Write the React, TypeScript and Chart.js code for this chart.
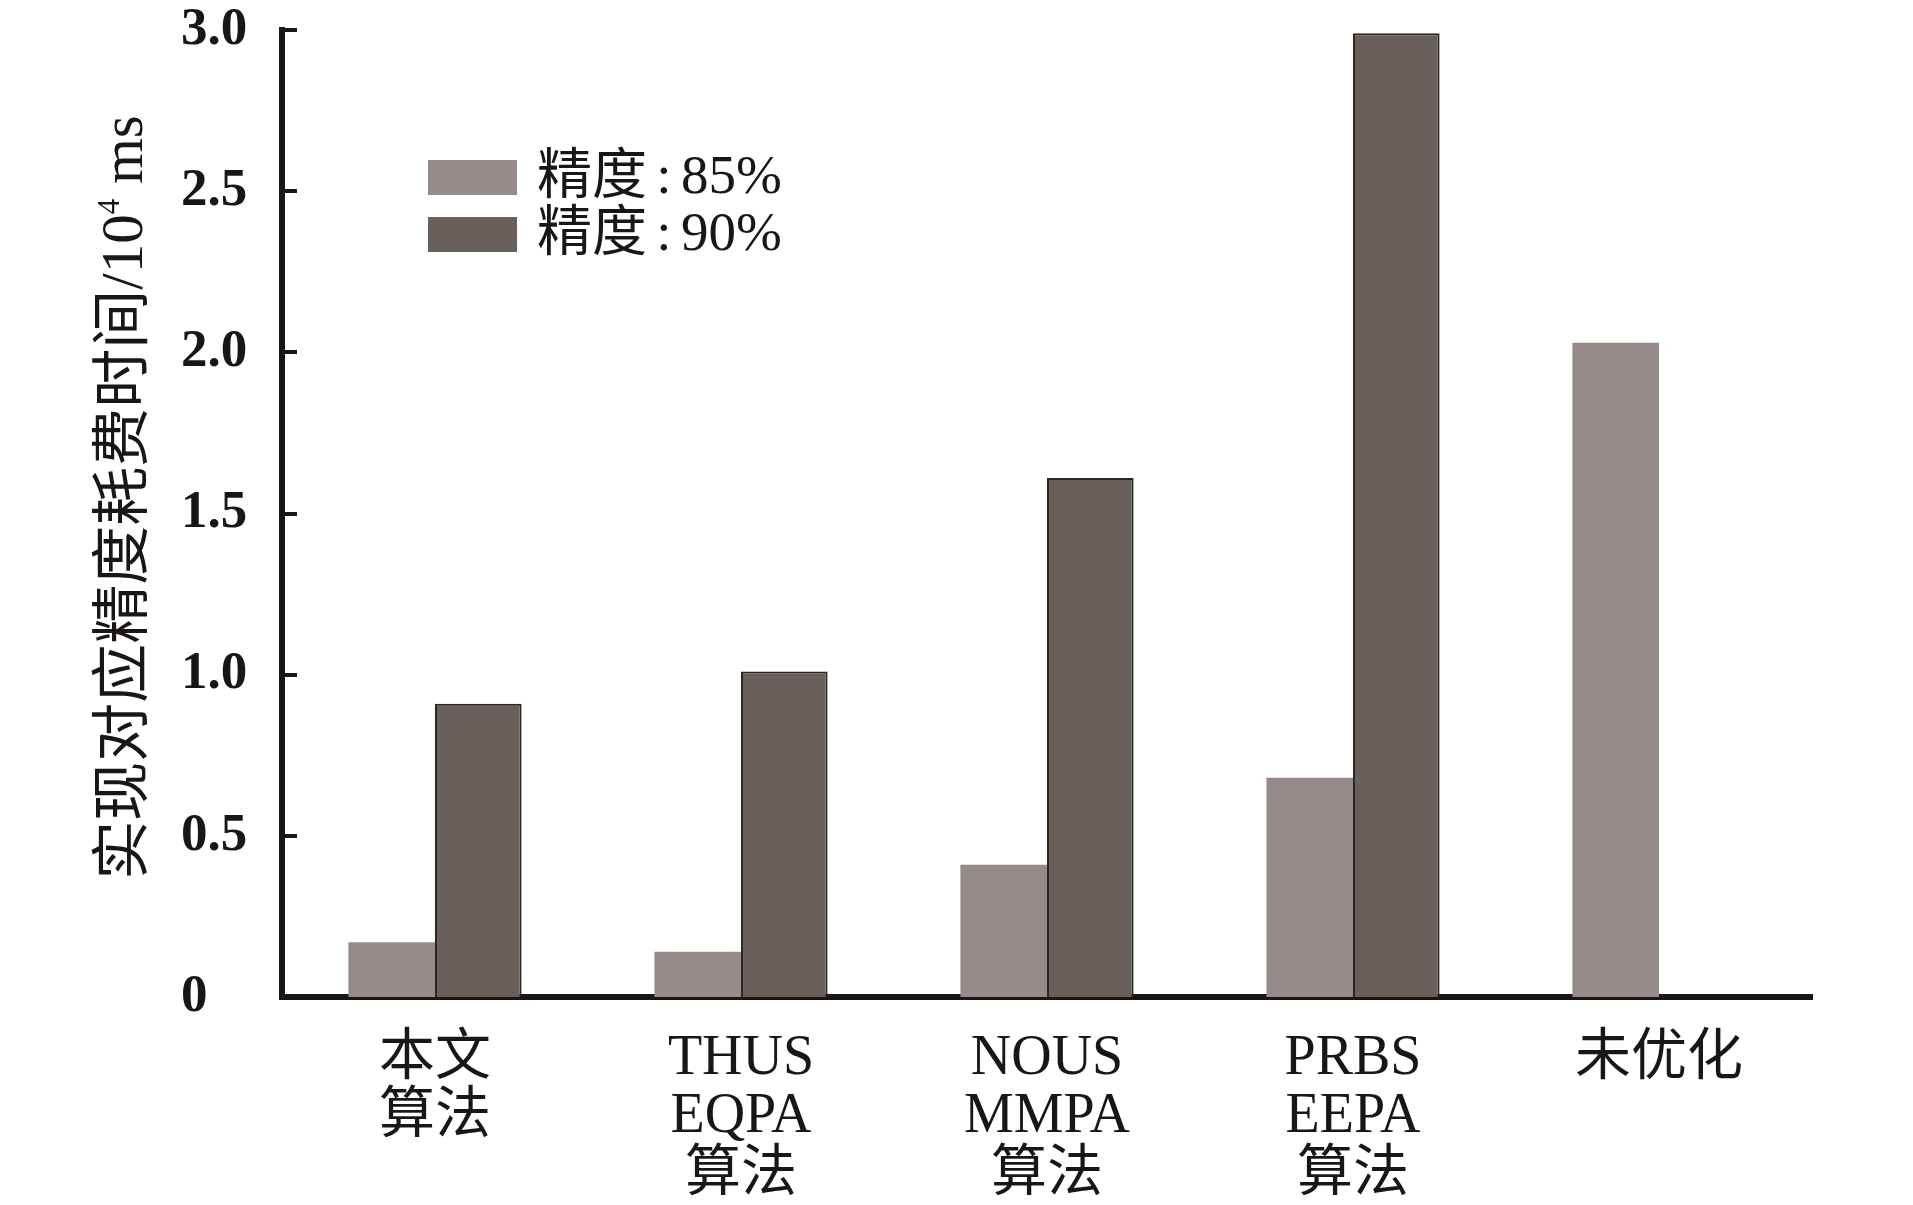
import React, { useEffect, useRef } from 'react';
import { Chart, registerables } from 'chart.js';

Chart.register(...registerables);

const categories: string[][] = [
  ['本文', '算法'],
  ['THUS', 'EQPA', '算法'],
  ['NOUS', 'MMPA', '算法'],
  ['PRBS', 'EEPA', '算法'],
  ['未优化'],
];
const seriesLabels = ['精度:85%', '精度:90%'];
const values85 = [0.17, 0.14, 0.41, 0.68, 2.03];
const values90 = [0.91, 1.01, 1.61, 2.99, 0];
const yTicks = [0, 0.5, 1.0, 1.5, 2.0, 2.5, 3.0];
const yTickLabels = ['0', '0.5', '1.0', '1.5', '2.0', '2.5', '3.0'];
const yTitleMain = '实现对应精度耗费时间/10';
const yTitleSup = '4';
const yTitleUnit = ' ms';

const INK = '#1a1614';
const LIGHT = '#958b88';
const DARK = '#6a605b';
const SERIF = '"Liberation Serif", "Noto Sans CJK SC", serif';

const decorPlugin = {
  id: 'decor',
  afterDraw(chart: any) {
    const { ctx, chartArea, scales } = chart;
    const y = scales.y;
    ctx.save();
    // inward y ticks
    ctx.strokeStyle = INK;
    ctx.lineWidth = 4;
    yTicks.forEach((v) => {
      const py = Math.round(y.getPixelForValue(v));
      ctx.beginPath();
      ctx.moveTo(chartArea.left, py);
      ctx.lineTo(chartArea.left + 15, py);
      ctx.stroke();
    });

    // legend
    const boxX = 428;
    const boxW = 89;
    const boxH = 35;
    const rowsY = [160, 217];
    chart.data.datasets.forEach((ds: any, i: number) => {
      const by = rowsY[i];
      ctx.fillStyle = ds.backgroundColor;
      ctx.fillRect(boxX, by, boxW, boxH);
      const parts = String(ds.label).split(':');
      ctx.fillStyle = INK;
      ctx.font = `55px ${SERIF}`;
      ctx.textBaseline = 'middle';
      ctx.textAlign = 'left';
      const ty = by + boxH / 2 + 1;
      let tx = 537;
      ctx.fillText(parts[0], tx, ty);
      tx += ctx.measureText(parts[0]).width;
      const gap = 34;
      const cw = ctx.measureText(':').width;
      ctx.fillText(':', tx + (gap - cw) / 2, ty);
      tx += gap;
      ctx.fillText(parts[1], tx, ty);
    });

    // y title
    const cy = (chartArea.top + chartArea.bottom) / 2 - 16;
    ctx.translate(126, cy);
    ctx.rotate(-Math.PI / 2);
    ctx.fillStyle = INK;
    ctx.textBaseline = 'middle';
    ctx.textAlign = 'left';
    const mainFont = `59px ${SERIF}`;
    const supFont = `31px ${SERIF}`;
    ctx.font = mainFont;
    const wMain = ctx.measureText(yTitleMain).width;
    const wUnit = ctx.measureText(yTitleUnit).width;
    ctx.font = supFont;
    const wSup = ctx.measureText(yTitleSup).width;
    let x = -(wMain + wSup + wUnit) / 2;
    ctx.font = mainFont;
    ctx.fillText(yTitleMain, x, 0);
    x += wMain;
    ctx.font = supFont;
    ctx.fillText(yTitleSup, x, -15);
    x += wSup;
    ctx.font = mainFont;
    ctx.fillText(yTitleUnit, x, 0);
    ctx.restore();
  },
};

export default function App() {
  const ref = useRef<HTMLCanvasElement | null>(null);
  useEffect(() => {
    if (!ref.current) return;
    const chart = new Chart(ref.current, {
      type: 'bar',
      data: {
        labels: categories,
        datasets: [
          {
            label: seriesLabels[0],
            data: values85,
            backgroundColor: LIGHT,
            borderWidth: 0,
            categoryPercentage: 0.566,
            barPercentage: 1,
          },
          {
            label: seriesLabels[1],
            data: values90,
            backgroundColor: DARK,
            borderColor: '#2b2623',
            borderWidth: 2,
            categoryPercentage: 0.566,
            barPercentage: 1,
          },
        ],
      },
      options: {
        animation: false,
        responsive: true,
        maintainAspectRatio: false,
        layout: { padding: { left: 181, right: 101, top: 30, bottom: 0 } },
        plugins: {
          legend: { display: false },
          tooltip: { enabled: false },
          title: { display: false },
        },
        scales: {
          x: {
            grid: { display: false },
            border: { display: true, color: INK, width: 6 },
            ticks: {
              color: INK,
              font: { family: SERIF, size: 56, lineHeight: 1.04 },
              padding: 25,
              maxRotation: 0,
              minRotation: 0,
              autoSkip: false,
            },
            afterFit: (s: any) => {
              s.height = 208;
            },
          },
          y: {
            min: 0,
            max: 3,
            grid: { display: false },
            border: { display: true, color: INK, width: 6 },
            afterBuildTicks: (s: any) => {
              s.ticks = yTicks.map((v) => ({ value: v }));
            },
            ticks: {
              color: INK,
              font: { family: SERIF, size: 53, weight: 'bold', lineHeight: 1.0 },
              crossAlign: 'far',
              callback: (_v: any, i: number) => yTickLabels[i],
            },
            afterFit: (s: any) => {
              s.width = 101;
            },
          },
        },
      },
      plugins: [decorPlugin],
    } as any);
    return () => chart.destroy();
  }, []);
  return (
    <div style={{ position: 'absolute', left: 0, top: 0, width: 1913, height: 1205, background: '#fff' }}>
      <canvas ref={ref} />
    </div>
  );
}
